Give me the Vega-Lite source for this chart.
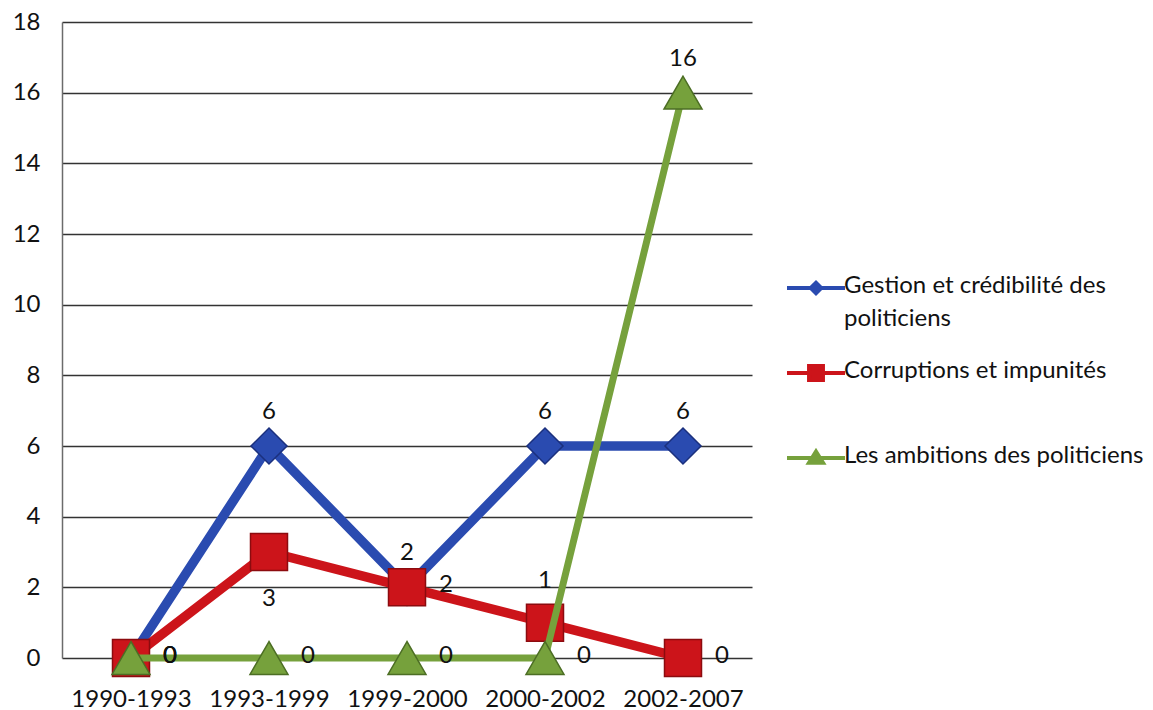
{
  "$schema": "https://vega.github.io/schema/vega-lite/v6.json",
  "autosize": {"type": "none"},
  "width": 690,
  "height": 636,
  "padding": {"left": 62, "top": 22, "right": 401, "bottom": 52},
  "background": "white",
  "config": {
    "view": {"stroke": null},
    "font": "Lato",
    "text": {"font": "Lato", "fontSize": 24, "color": "#111111"}
  },
  "data": {
    "values": [
      {"period": "1990-1993", "series": "Gestion et crédibilité des politiciens", "value": 0},
      {"period": "1993-1999", "series": "Gestion et crédibilité des politiciens", "value": 6},
      {"period": "1999-2000", "series": "Gestion et crédibilité des politiciens", "value": 2},
      {"period": "2000-2002", "series": "Gestion et crédibilité des politiciens", "value": 6},
      {"period": "2002-2007", "series": "Gestion et crédibilité des politiciens", "value": 6},
      {"period": "1990-1993", "series": "Corruptions et impunités", "value": 0},
      {"period": "1993-1999", "series": "Corruptions et impunités", "value": 3},
      {"period": "1999-2000", "series": "Corruptions et impunités", "value": 2},
      {"period": "2000-2002", "series": "Corruptions et impunités", "value": 1},
      {"period": "2002-2007", "series": "Corruptions et impunités", "value": 0},
      {"period": "1990-1993", "series": "Les ambitions des politiciens", "value": 0},
      {"period": "1993-1999", "series": "Les ambitions des politiciens", "value": 0},
      {"period": "1999-2000", "series": "Les ambitions des politiciens", "value": 0},
      {"period": "2000-2002", "series": "Les ambitions des politiciens", "value": 0},
      {"period": "2002-2007", "series": "Les ambitions des politiciens", "value": 16}
    ]
  },
  "encoding": {
    "x": {
      "field": "period",
      "type": "ordinal",
      "sort": null,
      "scale": {"type": "point", "padding": 0.5},
      "axis": {
        "title": null,
        "labelAngle": 0,
        "ticks": false,
        "domain": false,
        "grid": false,
        "labelPadding": 29,
        "labelFont": "Lato",
        "labelFontSize": 24,
        "labelColor": "#111111"
      }
    },
    "y": {
      "field": "value",
      "type": "quantitative",
      "scale": {"domain": [0, 18], "nice": false},
      "axis": {
        "title": null,
        "values": [0, 2, 4, 6, 8, 10, 12, 14, 16, 18],
        "ticks": false,
        "domain": true,
        "domainColor": "#6b6b6b",
        "domainWidth": 1.5,
        "grid": true,
        "gridColor": "#333333",
        "gridWidth": 1.3,
        "labelPadding": 22,
        "labelFont": "Lato",
        "labelFontSize": 24,
        "labelColor": "#111111"
      }
    },
    "color": {
      "field": "series",
      "type": "nominal",
      "scale": {
        "domain": ["Gestion et crédibilité des politiciens", "Corruptions et impunités", "Les ambitions des politiciens"],
        "range": ["#2a4bb0", "#cc141a", "#76a13c"]
      },
      "legend": {
        "title": null,
        "orient": "none",
        "legendX": 723,
        "legendY": 235,
        "padding": 0,
        "rowPadding": 11,
        "labelFont": "Lato",
        "labelFontSize": 24,
        "labelColor": "#111111",
        "labelLimit": 400,
        "labelOffset": -3,
        "labelBaseline": "top",
        "symbolSize": 3364,
        "symbolStrokeWidth": 4,
        "labelExpr": "datum.label == 'Gestion et crédibilité des politiciens' ? ['Gestion et crédibilité des', 'politiciens'] : datum.label == 'Corruptions et impunités' ? ['Corruptions et impunités', ''] : datum.label",
        "encode": {
          "symbols": {
            "update": {
              "shape": {"signal": "datum.value == 'Gestion et crédibilité des politiciens' ? 'M-1,0H1M-0.18,0L0,-0.18L0.18,0L0,0.18Z' : datum.value == 'Corruptions et impunités' ? 'M-1,0H1M-0.24,-0.24H0.24V0.24H-0.24Z' : 'M-1,0H1M0,-0.22L0.24,0.16H-0.24Z'"},
              "fill": {"scale": "color", "field": "value"},
              "stroke": {"scale": "color", "field": "value"},
              "strokeWidth": {"value": 4},
              "opacity": {"value": 1}
            }
          },
          "labels": {
            "update": {
              "dy": {"value": -14},
              "lineHeight": {"value": 33}
            }
          }
        }
      }
    }
  },
  "layer": [
    {
      "transform": [{"filter": "datum.series == 'Gestion et crédibilité des politiciens'"}],
      "layer": [
        {"mark": {"type": "line", "strokeWidth": 9.5, "strokeJoin": "round"}},
        {"mark": {"type": "point", "shape": "diamond", "filled": true, "size": 1300, "opacity": 1, "stroke": "#1b307e", "strokeWidth": 1.5}}
      ]
    },
    {
      "transform": [{"filter": "datum.series == 'Corruptions et impunités'"}],
      "layer": [
        {"mark": {"type": "line", "strokeWidth": 9.5, "strokeJoin": "round"}},
        {"mark": {"type": "point", "shape": "square", "filled": true, "size": 1369, "opacity": 1, "stroke": "#8c0b0f", "strokeWidth": 1.5}}
      ]
    },
    {
      "transform": [{"filter": "datum.series == 'Les ambitions des politiciens'"}],
      "layer": [
        {"mark": {"type": "line", "strokeWidth": 7, "strokeJoin": "round"}},
        {"mark": {"type": "point", "shape": "triangle-up", "filled": true, "size": 1444, "opacity": 1, "stroke": "#4c6e24", "strokeWidth": 1.5}}
      ]
    },
    {
      "transform": [{"filter": "(datum.series == 'Gestion et crédibilité des politiciens' && datum.value > 0) || (datum.series == 'Les ambitions des politiciens' && datum.value > 0)"}],
      "mark": {"type": "text", "dy": -34, "font": "Lato", "fontSize": 24},
      "encoding": {"text": {"field": "value", "type": "quantitative"}, "color": {"value": "#111111"}}
    },
    {
      "transform": [{"filter": "datum.series == 'Corruptions et impunités' && datum.period == '2000-2002'"}],
      "mark": {"type": "text", "dy": -42, "font": "Lato", "fontSize": 24},
      "encoding": {"text": {"field": "value", "type": "quantitative"}, "color": {"value": "#111111"}}
    },
    {
      "transform": [{"filter": "datum.series == 'Corruptions et impunités' && datum.period == '1993-1999'"}],
      "mark": {"type": "text", "dy": 47, "font": "Lato", "fontSize": 24},
      "encoding": {"text": {"field": "value", "type": "quantitative"}, "color": {"value": "#111111"}}
    },
    {
      "transform": [{"filter": "(datum.value == 0) || (datum.series == 'Corruptions et impunités' && datum.period == '1999-2000')"}],
      "mark": {"type": "text", "align": "left", "dx": 32, "dy": -2, "font": "Lato", "fontSize": 24},
      "encoding": {"text": {"field": "value", "type": "quantitative"}, "color": {"value": "#111111"}}
    }
  ]
}
